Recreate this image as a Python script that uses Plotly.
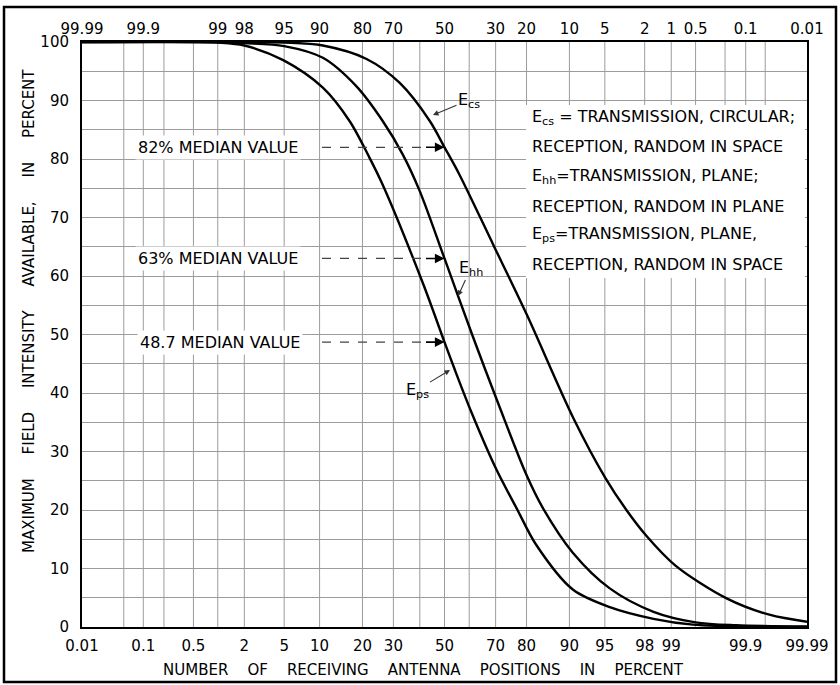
import plotly.graph_objects as go
from statistics import NormalDist

ND = NormalDist()


def zq(p):
    """percent -> normal quantile (probability-paper coordinate)"""
    return ND.inv_cdf(p / 100.0)


# ---------------- data ----------------
ecs_pct = [0.01, 1, 5, 10.6, 21.2, 32.3, 44.0, 50, 56.0, 69.1, 80.0, 90.7, 95.05, 96.9, 98.08, 99.11, 99.81, 99.957, 99.99]
ecs_val = [100, 100, 99.9, 99.4, 97.1, 93.0, 86.5, 82, 77.4, 65.4, 53.5, 35.7, 25.5, 20, 15.6, 10.5, 4.9, 2.1, 0.9]

ehh_pct = [0.01, 1, 2, 5, 10.6, 18.2, 26.3, 33.4, 39.9, 50, 61.4, 71.4, 79.9, 84.3, 90.6, 95.5, 98.4, 99.5, 99.86, 99.99]
ehh_val = [100, 100, 99.8, 99.3, 97.3, 92.5, 86.5, 80.8, 74.6, 63, 49.7, 37.6, 26.1, 20.4, 12.7, 6.6, 2.6, 0.8, 0.3, 0.1]

eps_pct = [0.01, 0.5, 1, 2, 4.9, 10.6, 16.5, 22.1, 26.3, 41.2, 50, 54.1, 60.8, 70.2, 77.4, 82.6, 90.6, 95.5, 98.4, 99.46, 99.9, 99.99]
eps_val = [100, 100, 99.9, 99.4, 96.9, 92.2, 86.5, 80.2, 75.6, 58.8, 48.7, 44.1, 36.8, 27.0, 19.9, 14.1, 6.4, 3.4, 1.4, 0.4, 0.1, 0]

median_pct = 50
median_vals = [82, 63, 48.7]
median_labels = ["82% MEDIAN VALUE", "63% MEDIAN VALUE", "48.7 MEDIAN VALUE"]

bottom_labels = [0.01, 0.1, 0.5, 2, 5, 10, 20, 30, 50, 70, 80, 90, 95, 98, 99, 99.9, 99.99]
bottom_text = ["0.01", "0.1", "0.5", "2", "5", "10", "20", "30", "50", "70", "80", "90", "95", "98", "99", "99.9", "99.99"]
top_labels = [99.99, 99.9, 99, 98, 95, 90, 80, 70, 50, 30, 20, 10, 5, 2, 1, 0.5, 0.1, 0.01]
top_text = ["99.99", "99.9", "99", "98", "95", "90", "80", "70", "50", "30", "20", "10", "5", "2", "1", "0.5", "0.1", "0.01"]
grid_pct = [0.05, 0.1, 0.2, 0.5, 1, 2, 5, 10, 20, 30, 40, 50, 60, 70, 80, 90, 95, 98, 99, 99.5, 99.8, 99.9, 99.95]

legend_lines = [
    "E<sub>cs</sub> = TRANSMISSION, CIRCULAR;",
    "RECEPTION, RANDOM IN SPACE",
    "E<sub>hh</sub>=TRANSMISSION, PLANE;",
    "RECEPTION, RANDOM IN PLANE",
    "E<sub>ps</sub>=TRANSMISSION, PLANE,",
    "RECEPTION, RANDOM IN SPACE",
]
curve_names = ["E<sub>cs</sub>", "E<sub>hh</sub>", "E<sub>ps</sub>"]

# ---------------- geometry helpers ----------------
W, H = 840, 685
ML, MR, MT, MB = 82, 33, 42, 58
PW, PH = W - ML - MR, H - MT - MB


def px(xp):
    return (xp - ML) / PW


def py(yp):
    return (H - MB - yp) / PH


FONT = "DejaVu Sans"
GRID = "#9c9c9c"
XR = [zq(0.01), zq(99.99)]
NB = "\u00a0"

fig = go.Figure()
for pct, val in [(ecs_pct, ecs_val), (ehh_pct, ehh_val), (eps_pct, eps_val)]:
    fig.add_trace(go.Scatter(
        x=[zq(p) for p in pct], y=val, mode="lines",
        line=dict(color="black", width=2.4, shape="spline", smoothing=0.9),
        showlegend=False, hoverinfo="skip"))
# dummy trace for top axis
fig.add_trace(go.Scatter(x=[], y=[], xaxis="x2", showlegend=False))

fig.update_layout(
    width=W, height=H,
    margin=dict(l=ML, r=MR, t=MT, b=MB),
    paper_bgcolor="white", plot_bgcolor="white",
    font=dict(family=FONT, color="black", size=15),
    xaxis=dict(range=XR, tickmode="array", tickvals=[zq(p) for p in bottom_labels],
               ticktext=bottom_text, showgrid=False,
               zeroline=False, showline=True, linecolor="black", linewidth=2,
               mirror=True, ticks="", ticklabelstandoff=4,
               tickfont=dict(size=15)),
    xaxis2=dict(range=XR, overlaying="x", side="top", tickmode="array",
                tickvals=[zq(100 - t) for t in top_labels], ticktext=top_text,
                showgrid=False, zeroline=False, ticks="", showline=False,
                ticklabelstandoff=4, tickfont=dict(size=15)),
    yaxis=dict(range=[0, 100], tickmode="array", tickvals=list(range(0, 101, 10)),
               showgrid=True, gridcolor=GRID, gridwidth=1,
               minor=dict(dtick=5, showgrid=True, gridcolor=GRID, gridwidth=1),
               zeroline=False, showline=True, linecolor="black", linewidth=2,
               mirror=True, ticks="", ticklabelstandoff=8,
               tickfont=dict(size=15)),
)

shapes = []
# vertical grid lines of the probability paper
for g in grid_pct:
    shapes.append(dict(type="line", xref="x", yref="paper", x0=zq(g), x1=zq(g),
                       y0=0, y1=1, line=dict(color=GRID, width=1), layer="below"))
# outer frame of the figure
shapes.append(dict(type="rect", xref="paper", yref="paper",
                   x0=px(4), x1=px(836), y0=py(682), y1=py(7),
                   line=dict(color="black", width=2.5), layer="above"))
# white box behind the legend text
shapes.append(dict(type="rect", xref="paper", yref="paper",
                   x0=px(526), x1=px(805), y0=py(278), y1=py(105),
                   fillcolor="white", line=dict(width=0), layer="above"))
annotations = []

# legend text lines
leg_y = [118, 146, 177, 206, 234, 264]
for txt, yy in zip(legend_lines, leg_y):
    annotations.append(dict(text=txt, xref="paper", yref="paper", x=px(530), y=py(yy),
                            xanchor="left", yanchor="middle", showarrow=False,
                            font=dict(size=16, family=FONT)))

# median labels, dashed leaders, arrows
label_left = [135, 135, 137]
for lab, val, lx in zip(median_labels, median_vals, label_left):
    annotations.append(dict(text=lab, xref="paper", yref="y", x=px(lx), y=val,
                            xanchor="left", yanchor="middle", showarrow=False,
                            bgcolor="white", borderpad=2,
                            font=dict(size=16, family=FONT)))
    shapes.append(dict(type="line", xref="paper", yref="y", x0=px(322), x1=px(424),
                       y0=val, y1=val, line=dict(color="#444", width=1.3, dash="dash"),
                       layer="above"))
    annotations.append(dict(text="", x=zq(median_pct), y=val, xref="x", yref="y",
                            ax=-20, ay=0, showarrow=True, arrowhead=2, arrowsize=1.2,
                            arrowwidth=1.6, arrowcolor="black"))

# curve labels with leader arrows: (label centre) -> (arrow head on curve)
tag_pos = [(469, 100, 433, 115), (471, 268, 458, 296), (417, 390, 450, 370)]
for txt, (tx, ty, hx, hy) in zip(curve_names, tag_pos):
    annotations.append(dict(text=txt, xref="paper", yref="paper", x=px(hx), y=py(hy),
                            axref="pixel", ayref="pixel", ax=tx - hx, ay=ty - hy,
                            xanchor="center", yanchor="middle",
                            showarrow=True, arrowhead=2, arrowsize=1, arrowwidth=1.1,
                            arrowcolor="#333", standoff=0,
                            font=dict(size=16, family=FONT)))

# axis titles (letter-spaced like the drafted original)
xsep = " " + NB + NB + NB
ysep = " " + NB + NB + NB + NB
xtitle = xsep.join("NUMBER OF RECEIVING ANTENNA POSITIONS IN PERCENT".split(" "))
ytitle = ysep.join("MAXIMUM FIELD INTENSITY AVAILABLE, IN PERCENT".split(" "))
annotations.append(dict(text=xtitle, xref="paper", yref="paper", x=px(423), y=py(670),
                        xanchor="center", yanchor="middle",
                        showarrow=False, font=dict(size=15, family=FONT)))
annotations.append(dict(text=ytitle, xref="paper", yref="paper", x=px(29), y=py(311),
                        xanchor="center", yanchor="middle",
                        textangle=-90, showarrow=False, font=dict(size=15, family=FONT)))

fig.update_layout(shapes=shapes, annotations=annotations)
fig.write_html("out.html", config={"displayModeBar": False},
               post_script="document.body.style.margin='0';")
